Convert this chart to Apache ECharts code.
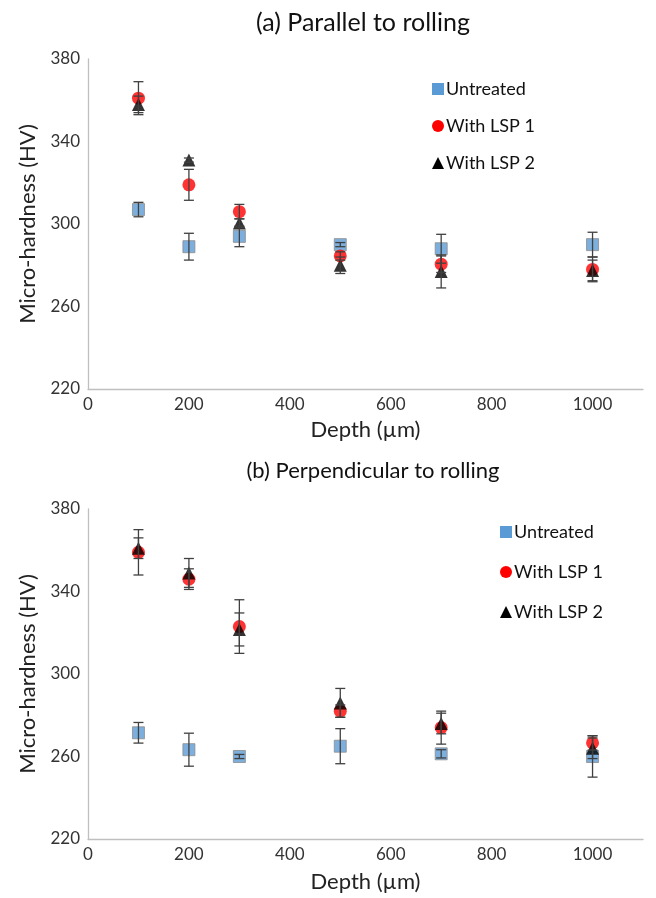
<!DOCTYPE html>
<html>
<head>
<meta charset="utf-8">
<script src="https://cdn.jsdelivr.net/npm/echarts@6/dist/echarts.min.js"></script>
<style>
  html, body { margin: 0; padding: 0; background: #fff; }
  #chart { width: 656px; height: 898px; }
</style>
</head>
<body>
<div id="chart"></div>
<script>
// depth positions (µm)
var depths = [100, 200, 300, 500, 700, 1000];
var seriesNames = ['Untreated', 'With LSP 1', 'With LSP 2'];
var yTicks = [220, 260, 300, 340, 380];

// (a) parallel to rolling: mean and +/- error
var parUntreated = [307, 289, 294, 290, 288, 290];
var parUntreatedErr = [3.5, 6.5, 5, 1, 7, 6];
var parLsp1 = [361, 319, 306, 284.5, 280.5, 278];
var parLsp1Err = [8, 7.5, 3.5, 2, 4, 6];
var parLsp2 = [358, 331, 300.5, 280, 277, 277.5];
var parLsp2Err = [4, 1, 2, 4, 8, 5];

// (b) perpendicular to rolling
var perpUntreated = [271.5, 263.3, 260, 265, 261.3, 260];
var perpUntreatedErr = [5, 8, 1, 8.5, 2, 10];
var perpLsp1 = [359, 346, 323, 282, 274, 266.6];
var perpLsp1Err = [11, 5, 13, 3, 8, 3.5];
var perpLsp2 = [361, 349, 321.6, 286, 276, 264];
var perpLsp2Err = [5, 7, 8, 7, 5, 5];

var FONT = 'Lato';
var colors = ['#5B9BD5', '#FF0000', '#000000'];
var symbols = ['rect', 'circle', 'triangle'];
var sizes = [12, 13, 13];

function pts(vals) {
  return depths.map(function (d, i) { return [d, vals[i]]; });
}
function errs(vals, e) {
  return depths.map(function (d, i) { return [d, vals[i] - e[i], vals[i] + e[i]]; });
}

function renderErr(params, api) {
  var lo = api.coord([api.value(0), api.value(1)]);
  var hi = api.coord([api.value(0), api.value(2)]);
  var w = 5;
  var st = { stroke: '#404040', lineWidth: 1.3 };
  return {
    type: 'group',
    children: [
      { type: 'line', shape: { x1: lo[0], y1: lo[1], x2: hi[0], y2: hi[1] }, style: st },
      { type: 'line', shape: { x1: lo[0] - w, y1: lo[1], x2: lo[0] + w, y2: lo[1] }, style: st },
      { type: 'line', shape: { x1: hi[0] - w, y1: hi[1], x2: hi[0] + w, y2: hi[1] }, style: st }
    ]
  };
}

function makeAxes(idx) {
  var x = {
    type: 'value', gridIndex: idx, min: 0, max: 1100, interval: 200,
    name: 'Depth (µm)', nameLocation: 'middle', nameGap: idx === 0 ? 30 : 32,
    nameTextStyle: { fontFamily: FONT, fontSize: 22, color: '#222' },
    axisLine: { show: true, lineStyle: { color: '#BFBFBF', width: 1.3 } },
    axisTick: { show: false },
    splitLine: { show: false },
    axisLabel: {
      fontFamily: FONT, fontSize: 17, color: '#333', margin: 7,
      formatter: function (v) { return v > 1000 ? '' : v; }
    }
  };
  var y = {
    type: 'value', gridIndex: idx, min: yTicks[0], max: yTicks[yTicks.length - 1], interval: 40,
    name: 'Micro-hardness (HV)', nameLocation: 'middle', nameGap: 49,
    nameTextStyle: { fontFamily: FONT, fontSize: 22, color: '#222' },
    axisLine: { show: true, lineStyle: { color: '#BFBFBF', width: 1.3 } },
    axisTick: { show: false },
    splitLine: { show: false },
    axisLabel: { fontFamily: FONT, fontSize: 17, color: '#333', margin: 8 }
  };
  return [x, y];
}

function makeSeries(idx, means, errors) {
  var out = [];
  means.forEach(function (m, k) {
    out.push({
      name: seriesNames[k], type: 'custom', xAxisIndex: idx, yAxisIndex: idx,
      renderItem: renderErr, data: errs(m, errors[k]), z: 3, silent: true,
      encode: { x: 0, y: [1, 2] }
    });
  });
  means.forEach(function (m, k) {
    out.push({
      name: seriesNames[k], type: 'scatter', xAxisIndex: idx, yAxisIndex: idx,
      symbol: symbols[k], symbolSize: sizes[k], data: pts(m), z: 2,
      itemStyle: k === 0 ? { color: colors[k], borderColor: '#8C8C8C', borderWidth: 1 } : { color: colors[k] }
    });
  });
  return out;
}

function makeLegend(left, top, gap) {
  return {
    orient: 'vertical', left: left, top: top, itemGap: gap,
    itemWidth: 12, itemHeight: 12,
    textStyle: { fontFamily: FONT, fontSize: 18, color: '#111', padding: [0, 0, 0, -3] },
    data: seriesNames.map(function (n, k) { return { name: n, icon: symbols[k] }; })
  };
}

var a0 = makeAxes(0), a1 = makeAxes(1);

var chart = echarts.init(document.getElementById('chart'));
var option = {
  backgroundColor: '#fff',
  animation: false,
  color: colors,
  title: [
    { text: '(a) Parallel to rolling', left: 358, top: 5, textAlign: 'center',
      textStyle: { fontFamily: FONT, fontSize: 25, fontWeight: 'normal', color: '#111' } },
    { text: '(b) Perpendicular to rolling', left: 368, top: 455, textAlign: 'center',
      textStyle: { fontFamily: FONT, fontSize: 22, fontWeight: 'normal', color: '#111' } }
  ],
  legend: [makeLegend(427, 75, 19), makeLegend(495, 518, 22)],
  grid: [
    { left: 88, right: 13, top: 59, height: 330 },
    { left: 88, right: 13, top: 509, height: 330 }
  ],
  xAxis: [a0[0], a1[0]],
  yAxis: [a0[1], a1[1]],
  series: makeSeries(0, [parUntreated, parLsp1, parLsp2], [parUntreatedErr, parLsp1Err, parLsp2Err])
    .concat(makeSeries(1, [perpUntreated, perpLsp1, perpLsp2], [perpUntreatedErr, perpLsp1Err, perpLsp2Err]))
};
option && chart.setOption(option);
</script>
</body>
</html>
